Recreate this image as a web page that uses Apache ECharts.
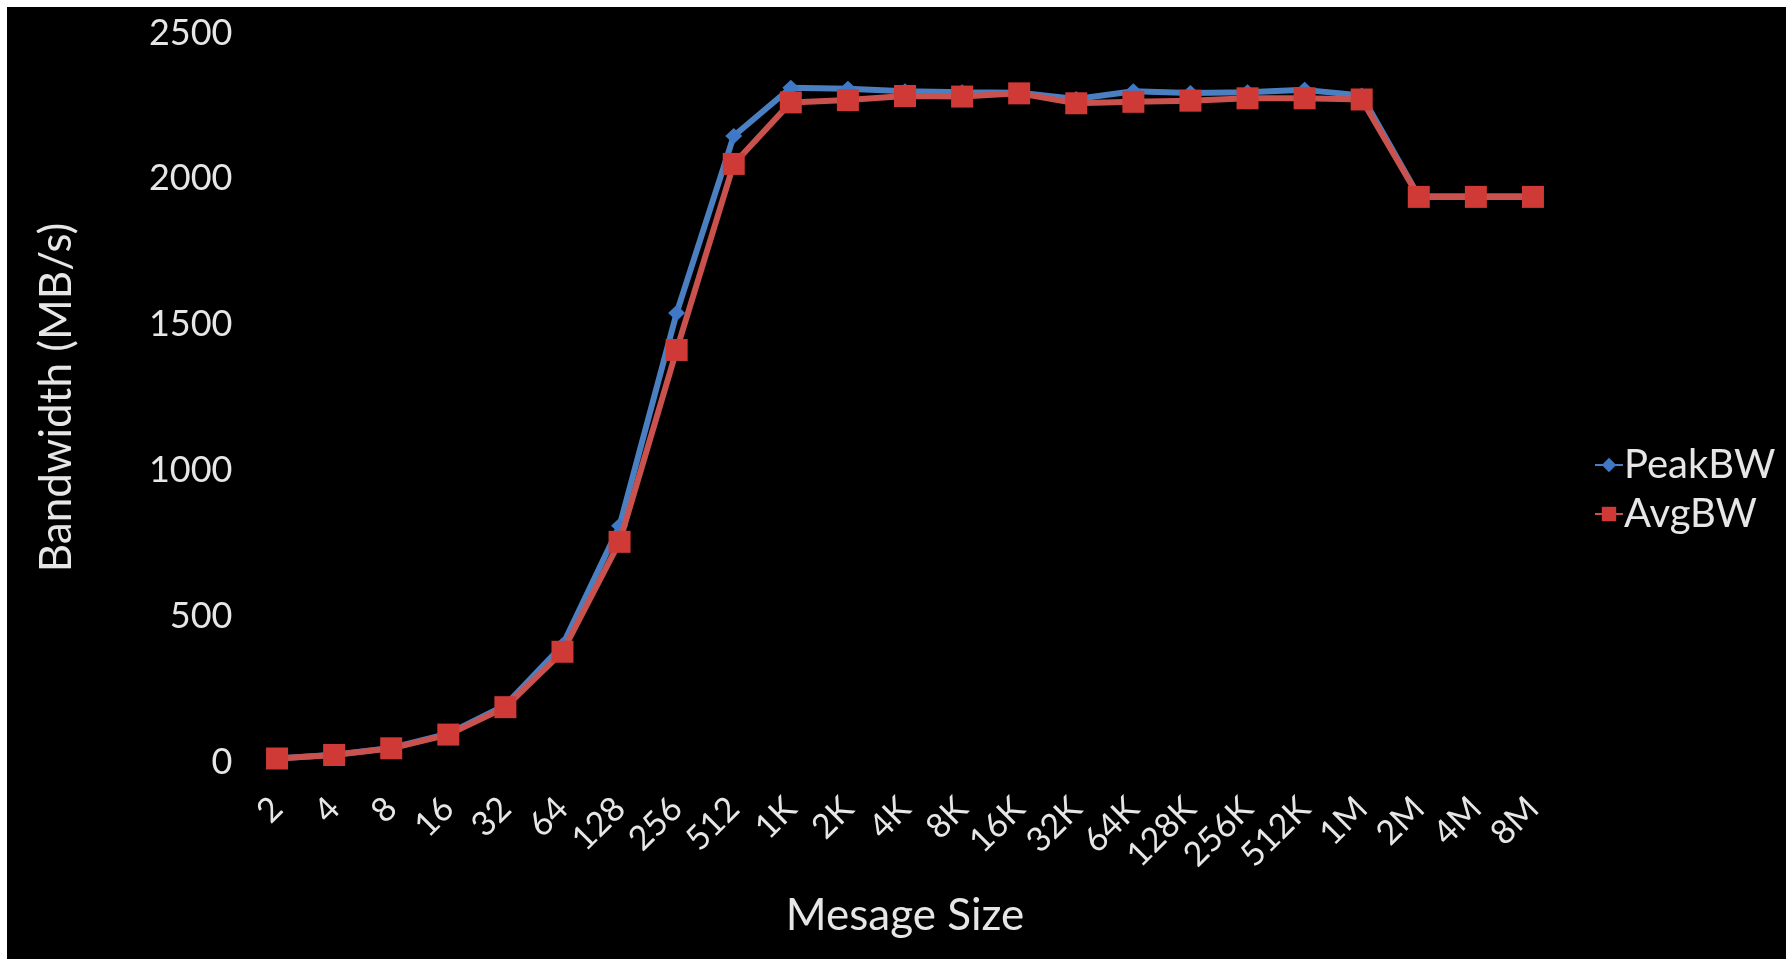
<!DOCTYPE html>
<html>
<head>
<meta charset="utf-8">
<script src="https://cdn.jsdelivr.net/npm/echarts@6/dist/echarts.min.js"></script>
<style>
html,body{margin:0;padding:0;background:#fff;}
#chart{width:1786px;height:959px;}
</style>
</head>
<body>
<div id="chart"></div>
<script>
const categories = ['2','4','8','16','32','64','128','256','512','1K','2K','4K','8K','16K','32K','64K','128K','256K','512K','1M','2M','4M','8M'];
const peakBW = [12, 25, 48, 97, 195, 400, 810, 1540, 2147, 2312, 2309, 2300, 2297, 2295, 2274, 2300, 2294, 2297, 2305, 2286, 1940, 1940, 1940];
const avgBW  = [12, 24, 47, 94, 188, 378, 755, 1413, 2051, 2262, 2270, 2284, 2282, 2293, 2259, 2264, 2268, 2276, 2276, 2272, 1938, 1938, 1938];
const yTicks = {min: 0, max: 2500, interval: 500};

const FONT = 'Lato';
const TXT = '#e6e6e6';
const chart = echarts.init(document.getElementById('chart'));
chart.setOption({
  backgroundColor: '#000',
  animation: false,
  textStyle: {fontFamily: FONT},
  graphic: [
    {type: 'rect', shape: {x: 0, y: 0, width: 1786, height: 7}, style: {fill: '#fff'}, silent: true},
    {type: 'rect', shape: {x: 0, y: 0, width: 7, height: 959}, style: {fill: '#fff'}, silent: true}
  ],
  grid: {left: 248.5, right: 224.5, top: 33, bottom: 197, containLabel: false, outerBoundsMode: 'none'},
  legend: {
    orient: 'vertical',
    left: 1589,
    top: 440,
    itemWidth: 28,
    itemHeight: 18,
    itemGap: 9,
    textStyle: {color: TXT, fontSize: 40, fontFamily: FONT, padding: [0, 0, 0, -4]},
    data: ['PeakBW', 'AvgBW']
  },
  xAxis: {
    type: 'category',
    data: categories,
    boundaryGap: true,
    name: 'Mesage Size',
    nameLocation: 'middle',
    nameGap: 132,
    nameTextStyle: {color: TXT, fontSize: 44, fontFamily: FONT},
    axisLine: {show: false},
    axisTick: {show: false},
    axisLabel: {color: TXT, fontSize: 34, fontFamily: FONT, rotate: 45, margin: 41, interval: 0}
  },
  yAxis: {
    type: 'value',
    min: yTicks.min,
    max: yTicks.max,
    interval: yTicks.interval,
    name: 'Bandwidth (MB/s)',
    nameLocation: 'middle',
    nameGap: 170,
    nameTextStyle: {color: TXT, fontSize: 44, fontFamily: FONT},
    axisLine: {show: false},
    axisTick: {show: false},
    splitLine: {show: false},
    axisLabel: {color: TXT, fontSize: 36, fontFamily: FONT, margin: 16, formatter: function (v) { return String(v); }}
  },
  series: [
    {
      name: 'PeakBW',
      type: 'line',
      data: peakBW,
      symbol: 'diamond',
      symbolSize: [17, 16],
      lineStyle: {color: '#4a7fc2', width: 6},
      itemStyle: {color: '#3f78c6'},
      z: 2
    },
    {
      name: 'AvgBW',
      type: 'line',
      data: avgBW,
      symbol: 'rect',
      symbolSize: 22,
      lineStyle: {color: '#c9514e', width: 6},
      itemStyle: {color: '#cf3a36'},
      z: 3
    }
  ]
});
</script>
</body>
</html>
